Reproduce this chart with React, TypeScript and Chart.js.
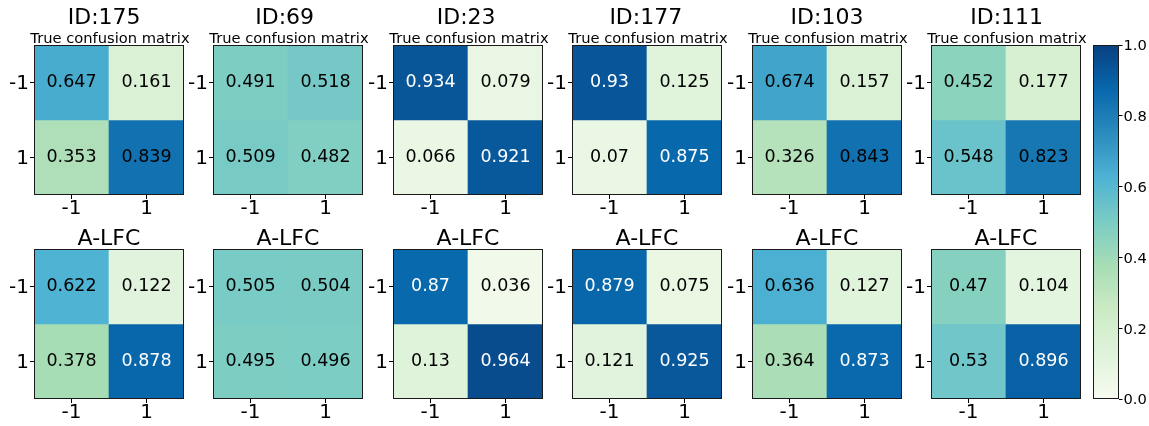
import React, { useEffect, useRef } from 'react';
import { Chart, registerables } from 'chart.js';

Chart.register(...registerables);

// ---------- data ----------
const ids = ['175', '69', '23', '177', '103', '111'];
const classLabels = ['-1', '1'];
const subtitleTrue = 'True confusion matrix';
const titleModel = 'A-LFC';

// rows: true label -1, 1 ; columns: predicted -1, 1
const trueCM: number[][][] = [
  [[0.647, 0.161], [0.353, 0.839]],
  [[0.491, 0.518], [0.509, 0.482]],
  [[0.934, 0.079], [0.066, 0.921]],
  [[0.93, 0.125], [0.07, 0.875]],
  [[0.674, 0.157], [0.326, 0.843]],
  [[0.452, 0.177], [0.548, 0.823]],
];
const alfcCM: number[][][] = [
  [[0.622, 0.122], [0.378, 0.878]],
  [[0.505, 0.504], [0.495, 0.496]],
  [[0.87, 0.036], [0.13, 0.964]],
  [[0.879, 0.075], [0.121, 0.925]],
  [[0.636, 0.127], [0.364, 0.873]],
  [[0.47, 0.104], [0.53, 0.896]],
];
const colorbarRange = [0, 1];
const colorbarStep = 0.2;

// GnBu colormap stops
const gnbu = ['#f7fcf0', '#e0f3db', '#ccebc5', '#a8ddb5', '#7bccc4', '#4eb3d3', '#2b8cbe', '#0868ac', '#084081'];

// ---------- layout ----------
const FONT = '"DejaVu Sans", "Liberation Sans", sans-serif';
const panelLefts = [34, 213, 393, 572, 752, 931];
const rowTops = [45, 249];
const AREA = 150;
const Y_AXIS_W = 34;
const X_AXIS_H = 30;
const PAD_TOP = 45;
const PAD_RIGHT = 10;
const titleShift = [-4.8, -3.3, -1.8, -1.2, 0, 0.7];

function hexToRgb(h: string) {
  const n = parseInt(h.slice(1), 16);
  return [(n >> 16) & 255, (n >> 8) & 255, n & 255];
}
function colorFor(v: number) {
  const t = Math.max(0, Math.min(1, v)) * (gnbu.length - 1);
  const i = Math.min(gnbu.length - 2, Math.floor(t));
  const f = t - i;
  const a = hexToRgb(gnbu[i]);
  const b = hexToRgb(gnbu[i + 1]);
  const c = a.map((x, k) => Math.round(x + (b[k] - x) * f));
  return `rgb(${c[0]},${c[1]},${c[2]})`;
}

const framePlugin = {
  id: 'frame',
  afterDraw(chart: any) {
    const { ctx, chartArea: a } = chart;
    ctx.save();
    ctx.strokeStyle = '#1a1a1a';
    ctx.lineWidth = 1;
    ctx.strokeRect(a.left + 0.5, a.top + 0.5, a.right - a.left - 1, a.bottom - a.top - 1);
    ctx.restore();
  },
};

const cellTextPlugin = {
  id: 'cellText',
  afterDatasetsDraw(chart: any) {
    const { ctx } = chart;
    ctx.save();
    ctx.font = `17.5px ${FONT}`;
    ctx.textAlign = 'center';
    ctx.textBaseline = 'middle';
    chart.data.datasets.forEach((ds: any, di: number) => {
      const meta = chart.getDatasetMeta(di);
      meta.data.forEach((el: any, j: number) => {
        const v = ds.cellValues[j];
        const p = el.getCenterPoint();
        ctx.fillStyle = v > 0.85 ? '#ffffff' : '#000000';
        ctx.fillText(String(v), p.x, p.y);
      });
    });
    ctx.restore();
  },
};

const titlePlugin = {
  id: 'panelTitles',
  afterDraw(chart: any, _args: any, opts: any) {
    const { ctx, chartArea: a } = chart;
    const cx = (a.left + a.right) / 2;
    ctx.save();
    ctx.fillStyle = '#000';
    ctx.textAlign = 'center';
    ctx.textBaseline = 'alphabetic';
    if (opts.subtitle) {
      ctx.font = `22px ${FONT}`;
      ctx.fillText(opts.title, cx + opts.shift, a.top - 21);
      ctx.font = `14.7px ${FONT}`;
      ctx.fillText(opts.subtitle, cx + 1, a.top - 2.5);
    } else {
      ctx.font = `22px ${FONT}`;
      ctx.fillText(opts.title, cx, a.top - 4);
    }
    ctx.restore();
  },
};

function panelConfig(matrix: number[][], title: string, subtitle: string | null, shift: number): any {
  const tickGrid = {
    display: true,
    drawOnChartArea: false,
    drawTicks: true,
    tickLength: 4,
    color: '#000',
    lineWidth: 1,
  };
  return {
    type: 'bar',
    data: {
      labels: classLabels,
      datasets: matrix.map((row, r) => ({
        data: classLabels.map(() => [r, r + 1]),
        cellValues: row,
        backgroundColor: row.map(colorFor),
        borderWidth: 0,
        grouped: false,
        barPercentage: 1,
        categoryPercentage: 1,
      })),
    },
    options: {
      animation: false,
      responsive: false,
      devicePixelRatio: 1,
      events: [],
      layout: { padding: { top: PAD_TOP, left: 0, right: PAD_RIGHT, bottom: 0 } },
      plugins: {
        legend: { display: false },
        tooltip: { enabled: false },
        title: { display: false },
        panelTitles: { title, subtitle, shift },
      },
      scales: {
        x: {
          type: 'category',
          offset: true,
          grid: { ...tickGrid, offset: false },
          border: { display: false },
          ticks: {
            color: '#000',
            font: { family: FONT, size: 20, lineHeight: 1 },
            padding: 0,
            maxRotation: 0,
            autoSkip: false,
          },
          afterFit: (s: any) => {
            s.height = X_AXIS_H;
          },
        },
        y: {
          type: 'linear',
          min: 0,
          max: classLabels.length,
          reverse: true,
          grid: tickGrid,
          border: { display: false },
          afterBuildTicks: (s: any) => {
            s.ticks = classLabels.map((_, i) => ({ value: i + 0.5 }));
          },
          ticks: {
            color: '#000',
            font: { family: FONT, size: 20, lineHeight: 1 },
            padding: 1,
            labelOffset: 1.5,
            callback: (_v: any, i: number) => classLabels[i],
          },
          afterFit: (s: any) => {
            s.width = Y_AXIS_W;
          },
        },
      },
    },
    plugins: [cellTextPlugin, framePlugin, titlePlugin],
  };
}

function colorbarConfig(): any {
  return {
    type: 'bar',
    data: {
      labels: [''],
      datasets: [
        {
          data: [colorbarRange],
          borderWidth: 0,
          barPercentage: 1,
          categoryPercentage: 1,
          backgroundColor: (c: any) => {
            const chart = c.chart;
            const y = chart.scales && chart.scales.y;
            if (!chart.chartArea || !y) return gnbu[4];
            const g = chart.ctx.createLinearGradient(0, y.getPixelForValue(colorbarRange[0]), 0, y.getPixelForValue(colorbarRange[1]));
            gnbu.forEach((col, i) => g.addColorStop(i / (gnbu.length - 1), col));
            return g;
          },
        },
      ],
    },
    options: {
      animation: false,
      responsive: false,
      devicePixelRatio: 1,
      events: [],
      layout: { padding: { top: 12, bottom: 12, left: 0, right: 0 } },
      plugins: { legend: { display: false }, tooltip: { enabled: false } },
      scales: {
        x: { display: false, offset: true },
        y: {
          position: 'right',
          min: colorbarRange[0],
          max: colorbarRange[1],
          grid: { display: true, drawOnChartArea: false, drawTicks: true, tickLength: 3.5, color: '#000' },
          border: { display: false },
          ticks: {
            stepSize: colorbarStep,
            color: '#000',
            font: { family: FONT, size: 14.7, lineHeight: 1 },
            padding: 1,
            labelOffset: 1.5,
            callback: (v: any) => Number(v).toFixed(1),
          },
          afterFit: (s: any) => {
            s.width = 30;
          },
        },
      },
    },
    plugins: [framePlugin],
  };
}

export default function App() {
  const panelRefs = useRef<(HTMLCanvasElement | null)[]>([]);
  const cbRef = useRef<HTMLCanvasElement | null>(null);

  useEffect(() => {
    const charts: Chart[] = [];
    ids.forEach((id, c) => {
      [0, 1].forEach((r) => {
        const canvas = panelRefs.current[r * ids.length + c];
        if (!canvas) return;
        const cfg =
          r === 0
            ? panelConfig(trueCM[c], `ID:${id}`, subtitleTrue, titleShift[c])
            : panelConfig(alfcCM[c], titleModel, null, 0);
        charts.push(new Chart(canvas, cfg));
      });
    });
    if (cbRef.current) charts.push(new Chart(cbRef.current, colorbarConfig()));
    return () => charts.forEach((ch) => ch.destroy());
  }, []);

  const cw = Y_AXIS_W + AREA + PAD_RIGHT;
  const chh = PAD_TOP + AREA + X_AXIS_H;

  return (
    <div
      style={{
        position: 'fixed',
        left: 0,
        top: 0,
        width: 1149,
        height: 426,
        overflow: 'hidden',
        background: '#fff',
      }}
    >
      {[0, 1].map((r) =>
        ids.map((id, c) => (
          <canvas
            key={`${r}-${c}`}
            ref={(el) => {
              panelRefs.current[r * ids.length + c] = el;
            }}
            width={cw}
            height={chh}
            style={{
              position: 'absolute',
              left: panelLefts[c] - Y_AXIS_W,
              top: rowTops[r] - PAD_TOP,
              width: cw,
              height: chh,
            }}
          />
        ))
      )}
      <canvas
        ref={cbRef}
        width={56}
        height={378}
        style={{ position: 'absolute', left: 1093, top: 33, width: 56, height: 378 }}
      />
    </div>
  );
}
